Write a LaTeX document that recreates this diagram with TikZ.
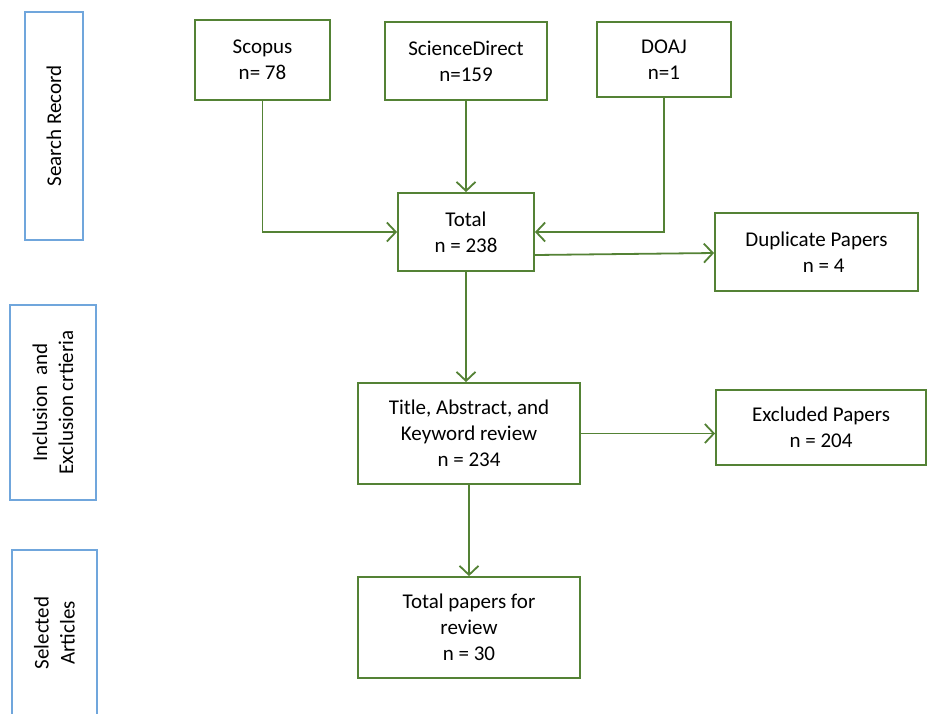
\documentclass[tikz,border=0pt]{standalone}
\usepackage{fontspec}
\setmainfont{Carlito}
\usetikzlibrary{arrows.meta, positioning}
\definecolor{boxgreen}{RGB}{84,130,53}
\definecolor{stageblue}{RGB}{112,166,220}

\begin{document}
\begin{tikzpicture}[
  x=1pt, y=-1pt,
  every node/.style={font=\fontsize{21}{26}\selectfont},
  box/.style={draw=boxgreen, line width=1.8pt, align=center, inner sep=0pt},
  stage/.style={draw=stageblue, line width=1.4pt, align=center, inner sep=0pt, rotate=90},
  arrow/.style={-{Straight Barb[length=9pt, width=19pt]}, draw=boxgreen, line width=1.8pt}
]
\useasboundingbox (0,0) rectangle (928,713);

% stages
\node[stage, minimum width=228pt, minimum height=58pt] (search) at (54,126) {Search Record};
\node[stage, minimum width=195pt, minimum height=86pt] (incl) at (53,402.5) {Inclusion\ \ and\\Exclusion crtieria};
\node[stage, minimum width=166pt, minimum height=85pt] (selected) at (54.5,633) {Selected\\Articles};

% sources
\node[box, minimum width=135pt, minimum height=80pt] (scopus) at (262.5,60) {Scopus\\n= 78};
\node[box, minimum width=162pt, minimum height=78pt] (sd) at (466,61) {ScienceDirect\\n=159};
\node[box, minimum width=134pt, minimum height=75pt] (doaj) at (664,59.5) {DOAJ\\n=1};

\node[box, minimum width=136pt, minimum height=78pt] (total) at (466,232) {Total\\n = 238};
\node[box, minimum width=203pt, minimum height=78pt] (dup) at (816.5,252) {Duplicate Papers\\\ \ \ n = 4};

\node[box, minimum width=222pt, minimum height=101pt] (title) at (469,433.5) {Title, Abstract, and\\Keyword review\\n = 234};
\node[box, minimum width=210pt, minimum height=75pt] (excl) at (821,427.5) {Excluded Papers\\n = 204};

\node[box, minimum width=222pt, minimum height=101pt] (final) at (469,627.5) {Total papers for\\review\\n = 30};

\draw[arrow] (scopus) |- (total);
\draw[arrow] (sd) -- (total);
\draw[arrow] (doaj) |- (total);
\draw[arrow] ([yshift=-23pt]total.east) -- ([yshift=-1pt]dup.west);
\draw[arrow] (total.south) -- (total.south |- title.north);
\draw[arrow] (title.east) -- (title.east -| excl.west);
\draw[arrow] (title) -- (final);
\end{tikzpicture}
\end{document}
